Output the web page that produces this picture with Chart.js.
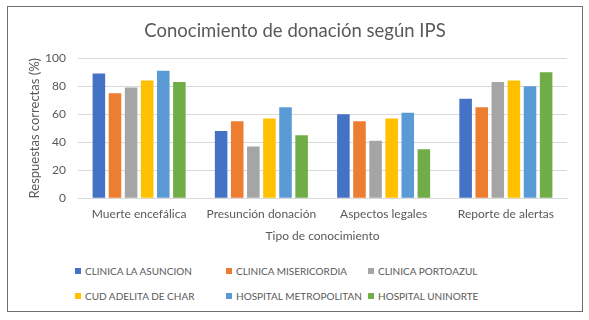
<!DOCTYPE html>
<html>
<head>
<meta charset="utf-8">
<script src="https://cdn.jsdelivr.net/npm/chart.js@4"></script>
<style>
  body { margin: 0; background: #fff; }
  #frame {
    position: absolute; left: 7px; top: 6px;
    width: 576px; height: 306px;
    box-sizing: border-box;
    border: 1px solid #6e6e6e;
  }
  #wrap { position: absolute; left: 0; top: 0; width: 574px; height: 240px; }
  #legend {
    position: absolute; left: 67px; top: 257px;
    display: grid;
    grid-template-columns: 151px 142px auto;
    row-gap: 11px;
    font-family: Lato, sans-serif; font-size: 10px; color: #595959;
  }
  .item { display: flex; align-items: center; height: 14px; white-space: nowrap; }
  .box { width: 6px; height: 6px; margin-right: 4px; flex-shrink: 0; }
</style>
</head>
<body>
<div id="frame">
  <div id="wrap"><canvas id="chart"></canvas></div>
  <div id="legend"></div>
</div>
<script>
// datos
const categorias = ['Muerte encefálica', 'Presunción donación', 'Aspectos legales', 'Reporte de alertas'];
const ips = ['CLINICA LA ASUNCION', 'CLINICA MISERICORDIA', 'CLINICA PORTOAZUL',
             'CUD ADELITA DE CHAR', 'HOSPITAL METROPOLITAN', 'HOSPITAL UNINORTE'];
const laAsuncion     = [89, 48, 60, 71];
const misericordia   = [75, 55, 55, 65];
const portoazul      = [79, 37, 41, 83];
const adelitaDeChar  = [84, 57, 57, 84];
const metropolitan   = [91, 65, 61, 80];
const uninorte       = [83, 45, 35, 90];
const colores = ['#4472C4', '#ED7D31', '#A5A5A5', '#FFC000', '#5B9BD5', '#70AD47'];

const series = [laAsuncion, misericordia, portoazul, adelitaDeChar, metropolitan, uninorte];
const gris = '#595959';

const ctx = document.getElementById('chart').getContext('2d');

new Chart(ctx, {
    type: 'bar',
    data: {
        labels: categorias,
        datasets: series.map((valores, i) => ({
            label: ips[i],
            data: valores,
            backgroundColor: colores[i],
            barPercentage: 0.78,
            categoryPercentage: 0.79
        }))
    },
    options: {
        responsive: true,
        maintainAspectRatio: false,
        animation: false,
        layout: { padding: 0 },
        plugins: {
            legend: { display: false },
            tooltip: { enabled: false },
            title: {
                display: true,
                text: 'Conocimiento de donación según IPS',
                color: gris,
                font: { family: 'Lato', size: 18.5, weight: 'normal' },
                padding: { top: 13, bottom: 16 }
            }
        },
        scales: {
            x: {
                grid: { display: false, drawTicks: false },
                border: { color: '#d9d9d9' },
                ticks: {
                    color: gris,
                    padding: 9,
                    maxRotation: 0,
                    font: { family: 'Lato', size: 12 }
                },
                title: {
                    display: true,
                    text: 'Tipo de conocimiento',
                    color: gris,
                    font: { family: 'Lato', size: 12 },
                    // chart.js cuenta dos veces el padding de los ticks, se compensa aqui
                    padding: { top: -2, bottom: 4 }
                }
            },
            y: {
                min: 0,
                max: 100,
                ticks: {
                    stepSize: 20,
                    color: gris,
                    padding: 12,
                    font: { family: 'Lato', size: 12 }
                },
                grid: { color: '#d9d9d9', drawTicks: false },
                border: { display: false },
                title: {
                    display: true,
                    text: 'Respuestas correctas (%)',
                    color: gris,
                    font: { family: 'Lato', size: 13 },
                    padding: { top: 19, bottom: 0 }
                },
                afterFit: (scale) => { scale.width = 70; }
            },
            // eje vacio a la derecha solo para dejar margen sin mover el titulo
            margen: {
                position: 'right',
                min: 0,
                max: 100,
                ticks: { display: false },
                grid: { display: false, drawTicks: false },
                border: { display: false },
                afterFit: (scale) => { scale.width = 15; }
            }
        }
    }
});

// leyenda en dos filas como en el original
const leyenda = document.getElementById('legend');
ips.forEach((nombre, i) => {
    const item = document.createElement('div');
    item.className = 'item';
    const box = document.createElement('span');
    box.className = 'box';
    box.style.background = colores[i];
    item.appendChild(box);
    item.appendChild(document.createTextNode(nombre));
    leyenda.appendChild(item);
});
</script>
</body>
</html>
